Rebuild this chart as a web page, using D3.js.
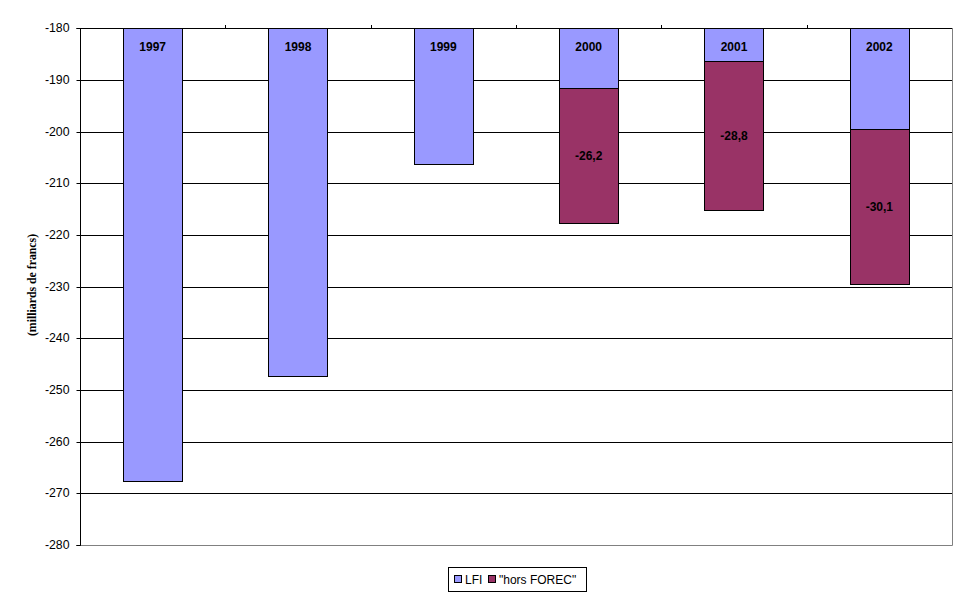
<!DOCTYPE html>
<html><head><meta charset="utf-8">
<script src="https://cdn.jsdelivr.net/npm/d3@7"></script>
<style>body{margin:0;background:#fff}svg{display:block}</style>
</head><body>
<svg id="c" width="969" height="603"></svg>
<script>
const categories = ["1997","1998","1999","2000","2001","2002"];
const lfi = [-267.6, -247.3, -206.2, -191.5, -186.4, -199.4];
const horsForec = [null, null, null, -26.2, -28.8, -30.1];
const horsLabels = ["", "", "", "-26,2", "-28,8", "-30,1"];
const yTicks = [-180,-190,-200,-210,-220,-230,-240,-250,-260,-270,-280];
const seriesNames = ["LFI", "\"hors FOREC\""];
const colors = ["#9999FF", "#993366"];

const svg = d3.select("#c");
const L = 80, R = 952, T = 28.3, B = 545;
const x = d3.scaleBand().domain(categories).range([L, R]).paddingInner(0.594).paddingOuter(0.297);
const y = d3.scaleLinear().domain([-180, -280]).range([T, B]);

// gridlines
svg.append("g").selectAll("line").data(yTicks.filter(v => v !== -280)).join("line")
  .attr("x1", L).attr("x2", R).attr("y1", d => Math.round(y(d)) + 0.5).attr("y2", d => Math.round(y(d)) + 0.5)
  .attr("stroke", "#000").attr("stroke-width", 1);
// plot border right & bottom (gray)
svg.append("line").attr("x1", R + 0.5).attr("x2", R + 0.5).attr("y1", Math.round(T)).attr("y2", Math.round(B) + 0.5).attr("stroke", "#808080");
svg.append("line").attr("x1", L).attr("x2", R + 0.5).attr("y1", Math.round(B) + 0.5).attr("y2", Math.round(B) + 0.5).attr("stroke", "#808080");

// y axis
const yAxis = d3.axisLeft(y).tickValues(yTicks).tickSize(4).tickPadding(7).tickFormat(d => d);
const ga = svg.append("g").attr("transform", `translate(${L + 0.5},0)`).call(yAxis);
ga.select(".domain").attr("stroke", "#000").attr("d", `M-4,${Math.round(T)+0.5}H0V${Math.round(B)+0.5}H-4`);
ga.selectAll(".tick line").attr("stroke", "#000");
ga.selectAll(".tick").attr("transform", d => `translate(0,${Math.round(y(d)) + 0.5})`);
ga.selectAll(".tick text").attr("font-family", "Arial, 'Liberation Sans', sans-serif").attr("font-size", 12.3).attr("fill", "#000");

// category ticks at top (x axis at -180)
const bounds = d3.range(1, categories.length).map(i => L + i * (R - L) / categories.length);
svg.append("g").selectAll("line").data(bounds).join("line")
  .attr("x1", d => Math.round(d) + 0.5).attr("x2", d => Math.round(d) + 0.5)
  .attr("y1", Math.round(T) - 3).attr("y2", Math.round(T) + 0.5).attr("stroke", "#000");

const yTop = y.domain()[0];
const bw = x.bandwidth();
// LFI bars
svg.append("g").selectAll("rect").data(categories).join("rect")
  .attr("x", (d) => Math.round(x(d)) + 0.5).attr("width", Math.round(bw))
  .attr("y", Math.round(y(yTop)) + 0.5)
  .attr("height", (d, i) => Math.round(y(lfi[i])) - Math.round(y(yTop)))
  .attr("fill", colors[0]).attr("stroke", "#000").attr("stroke-width", 1);
// hors FOREC bars stacked below LFI
svg.append("g").selectAll("rect").data(categories.filter((d, i) => horsForec[i] != null)).join("rect")
  .attr("x", d => Math.round(x(d)) + 0.5).attr("width", Math.round(bw))
  .attr("y", d => { const i = categories.indexOf(d); return Math.round(y(lfi[i])) + 0.5; })
  .attr("height", d => { const i = categories.indexOf(d); return Math.round(y(lfi[i] + horsForec[i])) - Math.round(y(lfi[i])); })
  .attr("fill", colors[1]).attr("stroke", "#000").attr("stroke-width", 1);

// labels
const lblFont = "Arial, 'Liberation Sans', sans-serif";
svg.append("g").selectAll("text").data(categories).join("text")
  .attr("x", d => x(d) + bw / 2).attr("y", y(yTop) + 23)
  .attr("text-anchor", "middle").attr("font-family", lblFont).attr("font-size", 12).attr("font-weight", "bold")
  .text(d => d);
svg.append("g").selectAll("text").data(categories.filter((d, i) => horsForec[i] != null)).join("text")
  .attr("x", d => x(d) + bw / 2)
  .attr("y", d => { const i = categories.indexOf(d); return y(lfi[i] + horsForec[i] / 2) + 4.5; })
  .attr("text-anchor", "middle").attr("font-family", lblFont).attr("font-size", 12).attr("font-weight", "bold")
  .text(d => horsLabels[categories.indexOf(d)]);

// y-axis title
svg.append("text").attr("transform", "translate(36,285) rotate(-90)")
  .attr("text-anchor", "middle").attr("font-family", "'Times New Roman', 'Liberation Serif', serif")
  .attr("font-size", 11.8).attr("font-weight", "bold").text("(milliards de francs)");

// legend
const lg = svg.append("g");
lg.append("rect").attr("x", 448.5).attr("y", 567.5).attr("width", 138).attr("height", 24).attr("fill", "#fff").attr("stroke", "#000");
const items = [{name: seriesNames[0], x: 454}, {name: seriesNames[1], x: 488}];
items.forEach((it, i) => {
  lg.append("rect").attr("x", it.x + 0.5).attr("y", 575.5).attr("width", 7).attr("height", 7).attr("fill", colors[i]).attr("stroke", "#000");
  lg.append("text").attr("x", it.x + 11).attr("y", 584).attr("font-family", lblFont).attr("font-size", 12).text(it.name);
});
</script>
</body></html>
